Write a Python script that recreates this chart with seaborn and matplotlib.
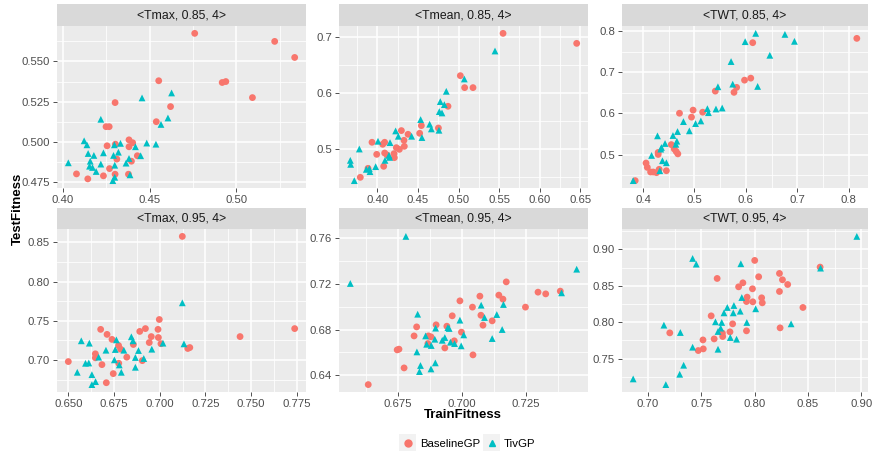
import numpy as np
import pandas as pd
import matplotlib
matplotlib.use('Agg')
import matplotlib.pyplot as plt
from matplotlib.lines import Line2D
from matplotlib.patches import Rectangle
import seaborn as sns

# ---- data (TrainFitness, TestFitness) ----
# <Tmax, 0.85, 4>
tmax85_base_x = [0.476, 0.522, 0.5335, 0.4553, 0.4918, 0.4939, 0.5092, 0.4302, 0.4621, 0.4539,
                 0.425, 0.4268, 0.4382, 0.4403, 0.4256, 0.4304, 0.4382, 0.443, 0.4312, 0.4396,
                 0.427, 0.408, 0.4235, 0.4302, 0.4145, 0.4379]
tmax85_base_y = [0.5675, 0.5625, 0.5525, 0.538, 0.5369, 0.5375, 0.5275, 0.5244, 0.5219, 0.5125,
                 0.5094, 0.5094, 0.5012, 0.4994, 0.4975, 0.4985, 0.4969, 0.4913, 0.4892, 0.4879,
                 0.4833, 0.48, 0.4788, 0.4798, 0.4769, 0.4798]
tmax85_tiv_x = [0.4457, 0.4627, 0.422, 0.4606, 0.4566, 0.4124, 0.414, 0.4298, 0.4333, 0.4484,
                0.4537, 0.4419, 0.4147, 0.418, 0.4235, 0.4321, 0.4293, 0.4449, 0.4033, 0.4159,
                0.4382, 0.422, 0.4155, 0.4172, 0.43, 0.4365, 0.4193, 0.4388, 0.43, 0.4289]
tmax85_tiv_y = [0.5273, 0.5304, 0.514, 0.5148, 0.5108, 0.5006, 0.4981, 0.4981, 0.499, 0.4992,
                0.4985, 0.4969, 0.4927, 0.4915, 0.4931, 0.4935, 0.4915, 0.4913, 0.4869, 0.4879,
                0.4896, 0.4861, 0.4848, 0.484, 0.4854, 0.4867, 0.4815, 0.4794, 0.4779, 0.4758]

# <Tmean, 0.85, 4>
tmean85_base_x = [0.5548, 0.6455, 0.5022, 0.5075, 0.5178, 0.487, 0.4542, 0.4752, 0.4296, 0.4521,
                  0.4378, 0.4328, 0.3934, 0.4066, 0.409, 0.4332, 0.4234, 0.4271, 0.3992, 0.409,
                  0.4119, 0.4205, 0.4209, 0.4078, 0.379, 0.3885]
tmean85_base_y = [0.7065, 0.6887, 0.6312, 0.6099, 0.6099, 0.5767, 0.5423, 0.538, 0.5334, 0.5286,
                  0.5268, 0.5161, 0.5126, 0.509, 0.5126, 0.5054, 0.503, 0.5, 0.4911, 0.4935,
                  0.49, 0.4923, 0.4852, 0.4698, 0.4502, 0.4662]
tmean85_tiv_x = [0.5449, 0.5071, 0.4849, 0.4775, 0.4825, 0.4763, 0.4796, 0.4533, 0.4644, 0.4665,
                 0.4759, 0.4225, 0.4258, 0.4422, 0.4549, 0.4008, 0.4156, 0.3778, 0.3667, 0.3671,
                 0.4094, 0.4143, 0.4151, 0.3979, 0.3864, 0.3901, 0.3909, 0.3716]
tmean85_tiv_y = [0.6751, 0.6253, 0.6033, 0.585, 0.5796, 0.5672, 0.5648, 0.553, 0.5447, 0.5364,
                 0.534, 0.5328, 0.5233, 0.5233, 0.521, 0.5144, 0.512, 0.5006, 0.4804, 0.4733,
                 0.4804, 0.4893, 0.4857, 0.4692, 0.4644, 0.4656, 0.4603, 0.4443]

# <TWT, 0.85, 4>
twt85_base_x = [0.816, 0.6134, 0.5975, 0.6096, 0.5406, 0.5821, 0.577, 0.4709, 0.4974, 0.4943,
                0.516, 0.4549, 0.4607, 0.4645, 0.4677, 0.4294, 0.4294, 0.4058, 0.4083, 0.4147,
                0.4198, 0.4262, 0.4313, 0.4454, 0.3847]
twt85_base_y = [0.783, 0.7725, 0.6812, 0.6861, 0.6545, 0.6636, 0.6515, 0.6006, 0.6082, 0.5911,
                0.6032, 0.5242, 0.5137, 0.5073, 0.5016, 0.5051, 0.5002, 0.4792, 0.4687, 0.4574,
                0.4574, 0.4558, 0.4639, 0.4606, 0.4364]
twt85_tiv_x = [0.6192, 0.6761, 0.5987, 0.6946, 0.6467, 0.5713, 0.5745, 0.5457, 0.623, 0.5252,
               0.5419, 0.554, 0.5272, 0.4786, 0.5022, 0.5125, 0.4901, 0.4671, 0.4582, 0.4281,
               0.4658, 0.4639, 0.4428, 0.4358, 0.4345, 0.4166, 0.4377, 0.4454, 0.4326, 0.3808]
twt85_tiv_y = [0.7952, 0.7927, 0.775, 0.7758, 0.7418, 0.7265, 0.6715, 0.6651, 0.6659, 0.6117,
               0.6109, 0.6133, 0.602, 0.5802, 0.5754, 0.5818, 0.5576, 0.556, 0.5463, 0.5455,
               0.5325, 0.525, 0.5269, 0.5172, 0.5132, 0.4978, 0.4849, 0.48, 0.4606, 0.4364]

# <Tmax, 0.95, 4>
tmax95_base_x = [0.7124, 0.6998, 0.7739, 0.744, 0.6677, 0.6712, 0.6739, 0.6891, 0.6922, 0.6991,
                 0.6954, 0.6993, 0.6943, 0.7007, 0.6775, 0.6786, 0.6856, 0.7154, 0.7165, 0.682,
                 0.6648, 0.6648, 0.65, 0.6684, 0.6776, 0.6746, 0.6708, 0.6905]
tmax95_base_y = [0.8577, 0.7516, 0.74, 0.7298, 0.739, 0.7326, 0.7262, 0.7364, 0.74, 0.739,
                 0.7298, 0.7286, 0.7222, 0.7207, 0.7184, 0.7137, 0.7197, 0.7146, 0.7158, 0.7035,
                 0.7078, 0.7027, 0.6979, 0.694, 0.6957, 0.6825, 0.6709, 0.6991]
tmax95_tiv_x = [0.7124, 0.6571, 0.6615, 0.6763, 0.6845, 0.6854, 0.7133, 0.7018, 0.6706, 0.6757,
                0.6804, 0.6884, 0.6957, 0.6666, 0.6752, 0.6867, 0.6913, 0.6594, 0.6612, 0.6779,
                0.6867, 0.6549, 0.6629, 0.679, 0.6649, 0.6629]
tmax95_tiv_y = [0.7729, 0.7244, 0.7214, 0.7256, 0.7295, 0.7244, 0.7205, 0.7214, 0.7124, 0.7133,
                0.7124, 0.712, 0.7137, 0.7035, 0.7001, 0.7031, 0.7018, 0.6957, 0.6961, 0.6936,
                0.6906, 0.6842, 0.6812, 0.6842, 0.6723, 0.6685]

# <Tmean, 0.95, 4>
tmean95_base_x = [0.6633, 0.6753, 0.6746, 0.6773, 0.6812, 0.6822, 0.6868, 0.6878, 0.6866, 0.6898,
                  0.6932, 0.694, 0.6961, 0.6969, 0.6991, 0.6997, 0.7042, 0.704, 0.7069, 0.7073,
                  0.7081, 0.7117, 0.7143, 0.7159, 0.7172, 0.7247, 0.7296, 0.7326, 0.7383]
tmean95_base_y = [0.6318, 0.6628, 0.6622, 0.6464, 0.6744, 0.6823, 0.6744, 0.6736, 0.6677, 0.6841,
                  0.6639, 0.6829, 0.692, 0.6701, 0.7051, 0.6777, 0.6578, 0.6996, 0.7092, 0.6925,
                  0.6838, 0.6876, 0.7101, 0.7066, 0.7217, 0.6996, 0.7127, 0.7112, 0.7136]
tmean95_tiv_x = [0.678, 0.6563, 0.7447, 0.7388, 0.6826, 0.7074, 0.7161, 0.7135, 0.7087, 0.6991,
                 0.6896, 0.6949, 0.6944, 0.7156, 0.6857, 0.6932, 0.6893, 0.7006, 0.6922, 0.6954,
                 0.697, 0.6861, 0.6879, 0.6996, 0.7117, 0.6823, 0.6837, 0.6895, 0.6833, 0.6878]
tmean95_tiv_y = [0.7615, 0.7203, 0.7328, 0.7121, 0.6934, 0.7013, 0.7019, 0.6931, 0.6905, 0.6882,
                 0.6812, 0.6809, 0.6817, 0.68, 0.6744, 0.673, 0.6715, 0.6753, 0.6706, 0.6689,
                 0.6677, 0.6671, 0.666, 0.6657, 0.6721, 0.6604, 0.6485, 0.6508, 0.6432, 0.6455]

# <TWT, 0.95, 4>
twt95_base_x = [0.7204, 0.7471, 0.7518, 0.7515, 0.762, 0.7592, 0.7648, 0.7697, 0.77, 0.7768,
                0.7793, 0.7849, 0.7889, 0.7923, 0.7929, 0.7923, 0.7979, 0.7982, 0.8, 0.8037,
                0.8065, 0.8071, 0.8232, 0.826, 0.8309, 0.8232, 0.8238, 0.8452, 0.8613]
twt95_base_y = [0.7853, 0.761, 0.7633, 0.7756, 0.777, 0.8087, 0.8601, 0.7849, 0.7803, 0.7867,
                0.7977, 0.8486, 0.8541, 0.8284, 0.8344, 0.7881, 0.8459, 0.828, 0.8849, 0.8624,
                0.8335, 0.8266, 0.867, 0.8583, 0.8518, 0.8422, 0.7922, 0.8202, 0.8757]
twt95_tiv_x = [0.6861, 0.7167, 0.7149, 0.7303, 0.7334, 0.7297, 0.7418, 0.7418, 0.7452, 0.7656,
               0.7632, 0.7656, 0.7691, 0.7681, 0.7712, 0.7743, 0.7799, 0.7805, 0.7864, 0.787,
               0.7879, 0.7771, 0.783, 0.7926, 0.8009, 0.8341, 0.8617, 0.8957]
twt95_tiv_y = [0.722, 0.7142, 0.7959, 0.7858, 0.7408, 0.7284, 0.7656, 0.8876, 0.8798, 0.7628,
               0.8005, 0.7872, 0.7996, 0.7918, 0.8128, 0.8202, 0.8128, 0.8229, 0.8151, 0.8803,
               0.8339, 0.7789, 0.7766, 0.7996, 0.8184, 0.7977, 0.8743, 0.9179]

panel_titles = ['<Tmax, 0.85, 4>', '<Tmean, 0.85, 4>', '<TWT, 0.85, 4>',
                '<Tmax, 0.95, 4>', '<Tmean, 0.95, 4>', '<TWT, 0.95, 4>']
panel_data = [
    (tmax85_base_x, tmax85_base_y, tmax85_tiv_x, tmax85_tiv_y),
    (tmean85_base_x, tmean85_base_y, tmean85_tiv_x, tmean85_tiv_y),
    (twt85_base_x, twt85_base_y, twt85_tiv_x, twt85_tiv_y),
    (tmax95_base_x, tmax95_base_y, tmax95_tiv_x, tmax95_tiv_y),
    (tmean95_base_x, tmean95_base_y, tmean95_tiv_x, tmean95_tiv_y),
    (twt95_base_x, twt95_base_y, twt95_tiv_x, twt95_tiv_y),
]
x_ticks = [
    ['0.40', '0.45', '0.50'],
    ['0.40', '0.45', '0.50', '0.55', '0.60', '0.65'],
    ['0.4', '0.5', '0.6', '0.7', '0.8'],
    ['0.650', '0.675', '0.700', '0.725', '0.750', '0.775'],
    ['0.675', '0.700', '0.725'],
    ['0.70', '0.75', '0.80', '0.85', '0.90'],
]
y_ticks = [
    ['0.475', '0.500', '0.525', '0.550'],
    ['0.5', '0.6', '0.7'],
    ['0.5', '0.6', '0.7', '0.8'],
    ['0.70', '0.75', '0.80', '0.85'],
    ['0.64', '0.68', '0.72', '0.76'],
    ['0.75', '0.80', '0.85', '0.90'],
]
methods = ['BaselineGP', 'TivGP']
colors = {'BaselineGP': '#F8766D', 'TivGP': '#00BFC4'}
markers = {'BaselineGP': 'o', 'TivGP': '^'}

# long table, one row per point
rows = []
for title, (bx, by, tx, ty) in zip(panel_titles, panel_data):
    for x, y in zip(bx, by):
        rows.append((title, 'BaselineGP', x, y))
    for x, y in zip(tx, ty):
        rows.append((title, 'TivGP', x, y))
df = pd.DataFrame(rows, columns=['panel', 'method', 'TrainFitness', 'TestFitness'])

plt.rcParams['font.family'] = ['Liberation Sans', 'DejaVu Sans']

W, H = 874, 458
fig = plt.figure(figsize=(W / 100, H / 100), dpi=100)

# panel boxes in pixels: (left, right), rows: (plot top, plot bottom, strip top)
cols_px = [(57, 306), (339, 588), (622, 868)]
rows_px = [(26, 188, 4), (229, 392, 208)]

def frac(l, t, r, b):
    return [l / W, 1 - b / H, (r - l) / W, (b - t) / H]

for i, title in enumerate(panel_titles):
    l, r = cols_px[i % 3]
    t, b, st = rows_px[i // 3]
    ax = fig.add_axes(frac(l, t, r, b))
    sax = fig.add_axes(frac(l, st, r, t))
    sax.set_facecolor('#D9D9D9')
    sax.set_xticks([]); sax.set_yticks([])
    for s in sax.spines.values():
        s.set_visible(False)
    sax.text(0.5, 0.5, title, ha='center', va='center', fontsize=8.8, color='#1A1A1A',
             transform=sax.transAxes)

    sub = df[df['panel'] == title]
    sns.scatterplot(data=sub, x='TrainFitness', y='TestFitness', hue='method', style='method',
                    palette=colors, markers=markers, hue_order=methods, style_order=methods,
                    s=24, linewidth=0, alpha=1, ax=ax, legend=False, zorder=3)
    ax.margins(0.05)
    xl = ax.get_xlim(); yl = ax.get_ylim()

    xt = [float(v) for v in x_ticks[i]]
    yt = [float(v) for v in y_ticks[i]]
    ax.set_xticks(xt); ax.set_xticklabels(x_ticks[i])
    ax.set_yticks(yt); ax.set_yticklabels(y_ticks[i])
    dx = (xt[1] - xt[0]) / 2
    dy = (yt[1] - yt[0]) / 2
    mx = np.arange(xt[0] - dx, xt[-1] + 2 * dx, 2 * dx)
    my = np.arange(yt[0] - dy, yt[-1] + 2 * dy, 2 * dy)
    ax.set_xticks(mx, minor=True); ax.set_yticks(my, minor=True)
    ax.set_xlim(xl); ax.set_ylim(yl)

    ax.set_facecolor('#EBEBEB')
    ax.grid(True, which='major', color='white', linewidth=1.1, zorder=0)
    ax.grid(True, which='minor', color='white', linewidth=0.55, zorder=0)
    ax.set_axisbelow(True)
    for s in ax.spines.values():
        s.set_visible(False)
    ax.tick_params(which='major', length=2.8, width=0.6, color='#333333',
                   labelsize=8.2, labelcolor='#4D4D4D', pad=2.2)
    ax.tick_params(which='minor', length=0)
    ax.set_xlabel(''); ax.set_ylabel('')

fig.text(0.021, 0.545, 'TestFitness', rotation=90, ha='center', va='center',
         fontsize=9.5, fontweight='bold', color='black')
fig.text(0.529, 0.094, 'TrainFitness', ha='center', va='center',
         fontsize=9.5, fontweight='bold', color='black')

handles = [Line2D([], [], linestyle='none', marker=markers[m], color=colors[m],
                  markersize=5.0) for m in methods]
leg = fig.legend(handles, methods, loc='center', bbox_to_anchor=(0.535, 0.031), ncol=2,
                 frameon=False, fontsize=8.2, handlelength=1.4, handletextpad=0.35,
                 columnspacing=0.35, borderaxespad=0)

# grey key boxes behind the legend markers, like ggplot legend keys
fig.canvas.draw()
rend = fig.canvas.get_renderer()
for h in leg.legend_handles:
    bb = h.get_window_extent(rend)
    cx, cy = (bb.x0 + bb.x1) / 2, (bb.y0 + bb.y1) / 2
    fig.patches.append(Rectangle(((cx - 8.5) / W, (cy - 8.5) / H), 17 / W, 17 / H,
                                 transform=fig.transFigure, facecolor='#F2F2F2',
                                 edgecolor='none', zorder=0))

fig.savefig('out.png', dpi=100)
